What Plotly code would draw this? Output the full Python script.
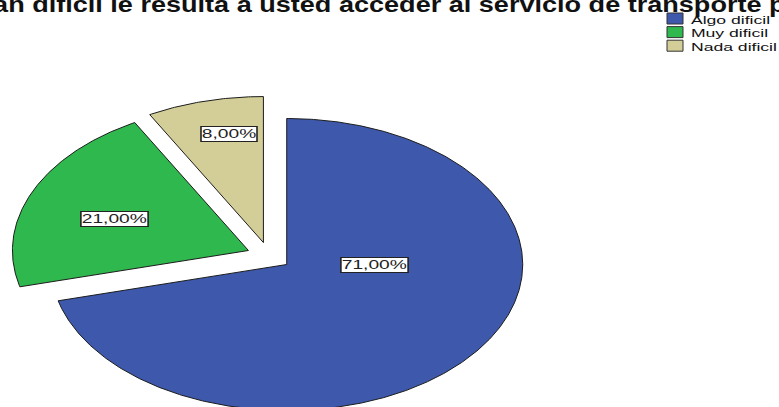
import json
import numpy as np
import plotly.graph_objects as go

# ---- data -------------------------------------------------------------
categories = ["Algo dificil", "Muy dificil", "Nada dificil"]
percentages = [71.0, 21.0, 8.0]
value_labels = ["71,00%", "21,00%", "8,00%"]
title_text = "¿Qué tan dificil le resulta a usted acceder al servicio de transporte público?"

# ---- style ------------------------------------------------------------
W, H = 779, 407
colors = ["#3E58AC", "#2EB84E", "#D3CE97"]
outline = "#1c1c1c"
explode = 0.095                     # every slice pulled out by this fraction of the radius
# label spot inside each slice: (distance from slice apex, clockwise angle from 12 o'clock)
label_polar = [(0.37, 90.0), (0.61, 291.0), (0.755, 348.7)]
font_family = "Liberation Sans, Arial, sans-serif"
label_stretch, legend_stretch, title_stretch = 1.6, 1.6, 1.23

# pie centre sits at pixel (269, 256); radius is 236 px wide and 146 px tall
x_range = [-269 / 236, (W - 269) / 236]
y_range = [-(H - 256) / 146, 256 / 146]

fig = go.Figure()
text_widen = {}   # annotation index -> [horizontal scale, transform origin]

total = sum(percentages)
start = 0.0
for name, pct, color, lab, (lr, la) in zip(categories, percentages, colors,
                                           value_labels, label_polar):
    sweep = 360.0 * pct / total
    end = start + sweep
    mid = np.radians(start + sweep / 2)
    ox, oy = explode * np.sin(mid), explode * np.cos(mid)
    th = np.radians(np.linspace(start, end, max(int(sweep * 2), 3)))
    xs = np.concatenate([[ox], ox + np.sin(th), [ox]])
    ys = np.concatenate([[oy], oy + np.cos(th), [oy]])
    fig.add_trace(go.Scatter(
        x=xs, y=ys, mode="lines", fill="toself", fillcolor=color,
        line=dict(color=outline, width=1), name=name,
        showlegend=False, hoverinfo="skip"))
    a = np.radians(la)
    text_widen[len(fig.layout.annotations)] = [label_stretch, "center"]
    fig.add_annotation(
        x=ox + lr * np.sin(a), y=oy + lr * np.cos(a), text=lab,
        showarrow=False, bgcolor="white", bordercolor="#222222",
        borderwidth=1, borderpad=0,
        font=dict(family=font_family, size=12, color="#222222"))
    start = end

# ---- legend (swatch + name per category) -------------------------------
leg_x0, leg_top, leg_step = 667, 13, 13.6
for i, (name, color) in enumerate(zip(categories, colors)):
    y0 = leg_top + i * leg_step
    fig.add_shape(type="rect", xref="paper", yref="paper",
                  x0=leg_x0 / W, x1=(leg_x0 + 16) / W,
                  y0=1 - (y0 + 11) / H, y1=1 - y0 / H,
                  fillcolor=color, line=dict(color="#333333", width=1))
    text_widen[len(fig.layout.annotations)] = [legend_stretch, "left center"]
    fig.add_annotation(x=(leg_x0 + 21) / W, y=1 - (y0 + 6.5) / H,
                       xref="paper", yref="paper", xanchor="left",
                       yanchor="middle", text=name, showarrow=False,
                       font=dict(family=font_family, size=11, color="#111111"))

# ---- title ----------------------------------------------------------------
text_widen[len(fig.layout.annotations)] = [title_stretch, "left center"]
fig.add_annotation(x=0, y=1, xref="paper", yref="paper", xanchor="left",
                   yanchor="bottom", xshift=-95, yshift=-19,
                   text="<b>" + title_text + "</b>", showarrow=False,
                   font=dict(family=font_family, size=22, color="#111111"))

fig.update_layout(
    width=W, height=H, margin=dict(l=0, r=0, t=0, b=0),
    paper_bgcolor="white", plot_bgcolor="white", showlegend=False,
    xaxis=dict(range=x_range, visible=False, fixedrange=True),
    yaxis=dict(range=y_range, visible=False, fixedrange=True),
)

post = """
var gd = document.getElementById('{plot_id}');
var widen = %s;
function widenText() {
  gd.querySelectorAll('g.annotation').forEach(function (g) {
    var spec = widen[g.getAttribute('data-index')];
    if (!spec) return;
    g.style.transformBox = 'fill-box';
    g.style.transformOrigin = spec[1];
    g.style.transform = 'scaleX(' + spec[0] + ')';
  });
}
widenText();
gd.on('plotly_afterplot', widenText);
""" % json.dumps({str(k): v for k, v in text_widen.items()})

fig.write_html("out.html", config={"displayModeBar": False, "staticPlot": True},
               post_script=post)
